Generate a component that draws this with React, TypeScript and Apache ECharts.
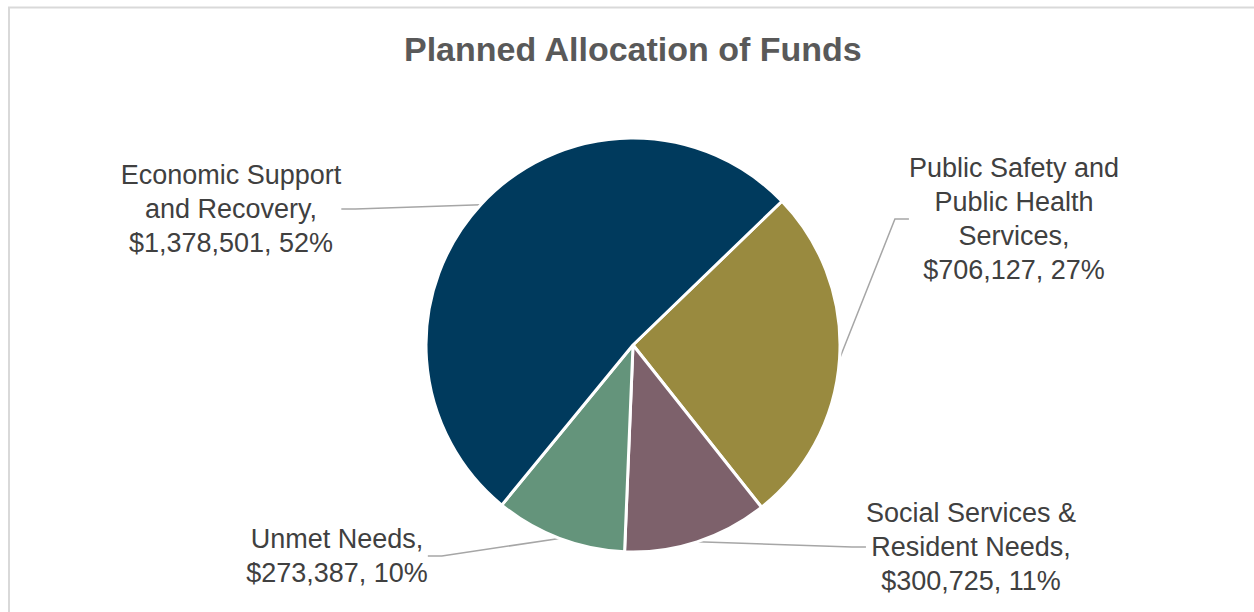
import React, { useEffect, useRef } from "react";
import * as echarts from "echarts";

const categories = [
  "Public Safety and\nPublic Health\nServices",
  "Social Services &\nResident Needs",
  "Unmet Needs",
  "Economic Support\nand Recovery",
];
const values = [706127, 300725, 273387, 1378501];
const colors = ["#998A3F", "#7D616B", "#64947B", "#003A5D"];
// label block centres (layout only)
const labelCenters = [
  [1014, 219],
  [971, 547],
  [337, 556],
  [231, 209],
];

export default function App() {
  const ref = useRef<HTMLDivElement>(null);
  useEffect(() => {
    const chart = echarts.init(ref.current!, null, { renderer: "svg" });
    const font = "'Liberation Sans', Arial, sans-serif";
    chart.setOption({
      animation: false,
      backgroundColor: "#ffffff",
      title: {
        text: "Planned Allocation of Funds",
        left: 399,
        top: 27,
        textStyle: {
          fontFamily: font,
          fontSize: 34,
          fontWeight: "bold",
          color: "#595959",
        },
      },
      graphic: [
        {
          type: "rect",
          shape: { x: 9, y: 7.5, width: 1400, height: 800 },
          style: { fill: "none", stroke: "#d9d9d9", lineWidth: 2 },
          silent: true,
        },
      ],
      series: [
        {
          type: "pie",
          center: [633, 345],
          radius: 207,
          startAngle: 44,
          clockwise: true,
          avoidLabelOverlap: false,
          itemStyle: { borderColor: "#ffffff", borderWidth: 3 },
          label: {
            show: true,
            position: "outside",
            fontFamily: font,
            fontSize: 27,
            lineHeight: 34,
            color: "#404040",
            align: "center",
            formatter: (p: any) =>
              p.name +
              ",\n$" +
              Number(p.value).toLocaleString("en-US") +
              ", " +
              Math.round(p.percent) +
              "%",
          },
          labelLine: {
            show: true,
            length: 10,
            length2: 14,
            lineStyle: { color: "#a6a6a6", width: 1.5 },
          },
          labelLayout: (params: any) => {
            const c = labelCenters[params.dataIndex];
            return {
              x: c[0],
              y: c[1],
              align: "center",
              verticalAlign: "middle",
              hideOverlap: false,
            };
          },
          data: categories.map((name, i) => ({
            name,
            value: values[i],
            itemStyle: { color: colors[i] },
          })),
        },
      ],
    });
    return () => chart.dispose();
  }, []);
  return (
    <div
      ref={ref}
      style={{ position: "absolute", left: 0, top: 0, width: 1254, height: 612 }}
    />
  );
}
